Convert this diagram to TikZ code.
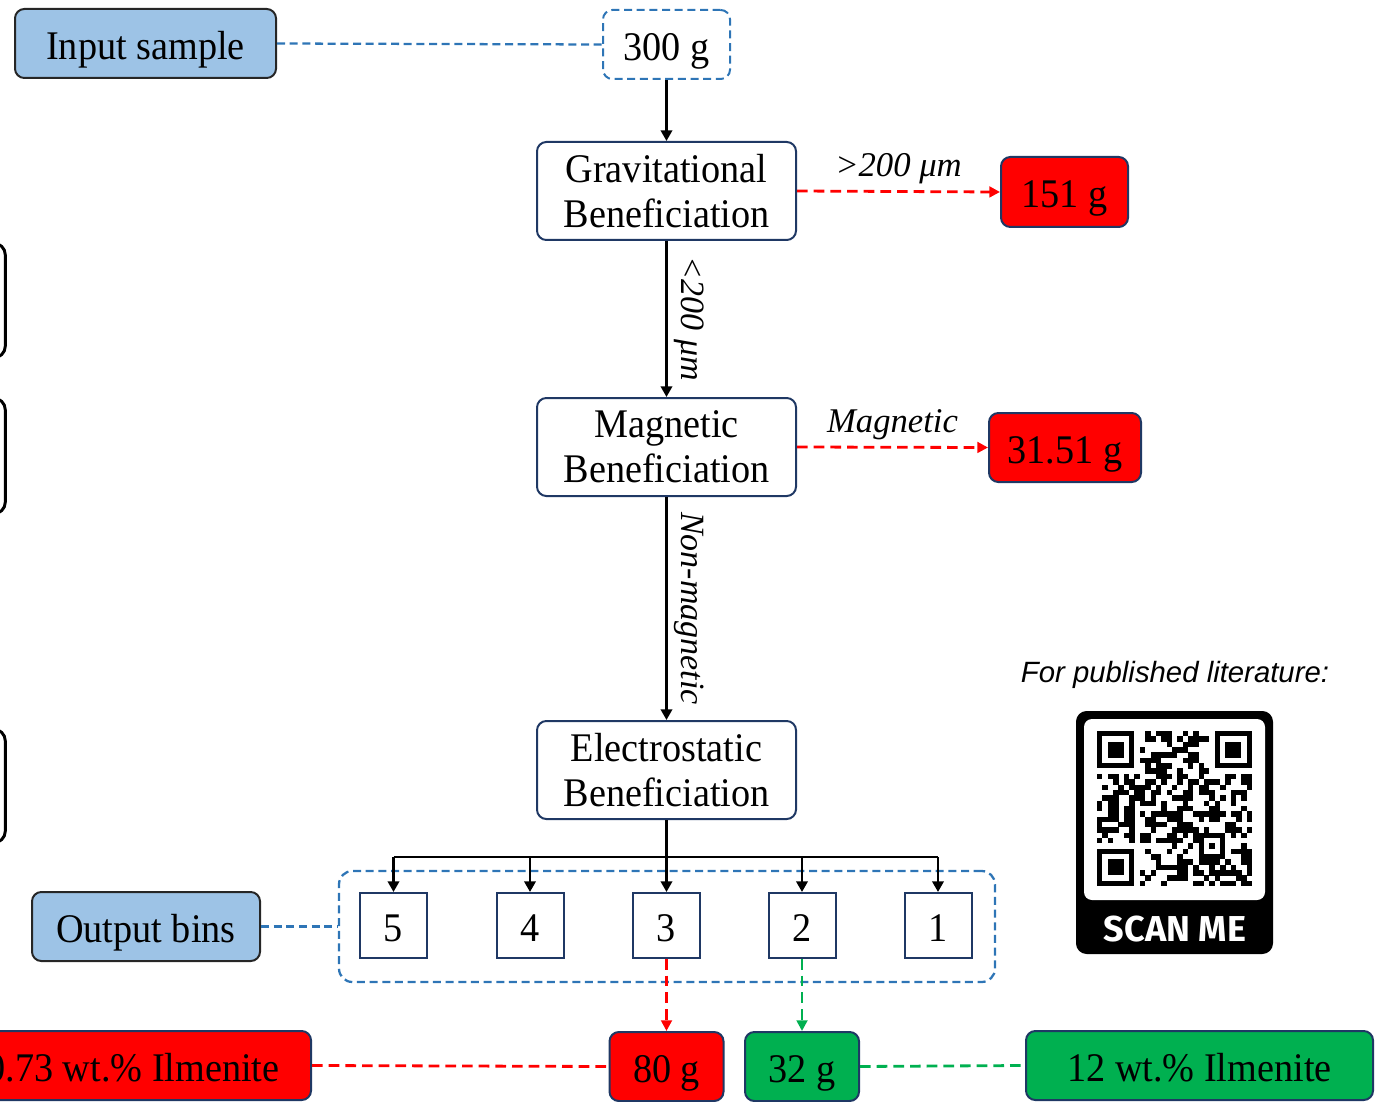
\documentclass[tikz,border=0pt]{standalone}
\usepackage{fontspec}
\usepackage{graphicx}
\setmainfont{Liberation Serif}
\newfontfamily\boxfont{Liberation Serif}[FakeStretch=0.94]
\newfontfamily\arialfont{Liberation Sans}
\newfontfamily\scanfont{Fira Sans}
\usetikzlibrary{arrows.meta,positioning,calc}
\definecolor{navy}{HTML}{1F3864}
\definecolor{lblue}{HTML}{9DC3E6}
\definecolor{dblue}{HTML}{2E75B6}
\definecolor{myred}{HTML}{FF0000}
\definecolor{mygreen}{HTML}{00B050}
\tikzset{
  base/.style={draw=navy, line width=1.5pt, rounded corners=7pt, align=center, inner sep=0pt,
    font=\boxfont\fontsize{30.5}{33.75}\selectfont},
  oneline/.style={text height=23.8pt, text depth=0pt},
  procbox/.style={base, fill=white, minimum width=194.25pt, minimum height=73.5pt},
  bluebox/.style={base, oneline, draw=black!85, fill=lblue, minimum height=51.75pt},
  redbox/.style={base, oneline, fill=myred, minimum height=51.75pt},
  greenbox/.style={base, oneline, fill=mygreen, minimum height=51.75pt},
  binbox/.style={draw=navy, line width=1.5pt, fill=white, minimum width=50.25pt, minimum height=48.75pt,
    inner sep=0pt, oneline, font=\boxfont\fontsize{30.5}{33.75}\selectfont},
  dashbox/.style={draw=dblue, line width=1.7pt, dash pattern=on 6pt off 3.5pt, rounded corners=10pt},
  leftbox/.style={draw=black, line width=2.2pt, rounded corners=9pt, minimum width=80pt},
  solidarrow/.style={line width=1.9pt, -{Triangle[length=8pt,width=8.5pt]}},
  reddash/.style={draw=myred, line width=2.1pt, dash pattern=on 8pt off 4.5pt},
  greendash/.style={draw=mygreen, line width=2.1pt, dash pattern=on 8pt off 4.5pt},
  bluedash/.style={draw=dblue, line width=1.7pt, dash pattern=on 6pt off 3.5pt},
  tipr/.style={-{Triangle[length=8pt,width=8pt]}},
  edgelabel/.style={font=\fontsize{26}{30}\selectfont\itshape, inner sep=0pt},
  vlabel/.style={font=\fontsize{25.5}{30}\selectfont\itshape, inner sep=0pt},
}
\begin{document}
\begin{tikzpicture}[x=0.75pt,y=-0.75pt]
\useasboundingbox (0,0) rectangle (1386,1102);
\clip (0,0) rectangle (1386,1102);

% partial boxes at the left edge
\node[leftbox, minimum height=86.25pt] (leftA) at (-48,300.5) {};
\node[leftbox, minimum height=87pt] (leftB) at (-48,456) {};
\node[leftbox, minimum height=85.5pt] (leftC) at (-48,786) {};

% main nodes
\node[bluebox, minimum width=195.75pt] (input) at (145.5,43.5) {Input sample};
\node[base, oneline, draw=dblue, dash pattern=on 6pt off 3.5pt, fill=white, minimum width=95.25pt, minimum height=51.75pt] (w300) at (666.5,44.5) {300 g};
\node[procbox] (grav) at (666.5,191) {Gravitational\\Beneficiation};
\node[redbox, minimum width=95.25pt, minimum height=52.5pt] (w151) at (1064.5,192) {151 g};
\node[procbox] (mag) at (666.5,447) {Magnetic\\Beneficiation};
\node[redbox, minimum width=114pt] (w3151) at (1065,447.5) {31.51 g};
\node[procbox] (elec) at (666.5,770) {Electrostatic\\Beneficiation};

\node[bluebox, minimum width=171pt] (outbins) at (146,926.5) {Output bins};
\node[dashbox, minimum width=492pt, minimum height=83.25pt] (container) at (667,926.5) {};
\node[binbox] (bin5) at (393.5,925.5) {5};
\node[binbox] (bin4) at (530,925.5) {4};
\node[binbox] (bin3) at (666.5,925.5) {3};
\node[binbox] (bin2) at (802,925.5) {2};
\node[binbox] (bin1) at (938,925.5) {1};

\node[redbox, minimum width=267pt] (ilm073) at (133,1065.5) {0.73 wt.\% Ilmenite};
\node[redbox, minimum width=85.5pt] (w80) at (666.5,1066.5) {80 g};
\node[greenbox, minimum width=85.5pt] (w32) at (802,1066.5) {32 g};
\node[greenbox, minimum width=260.25pt] (ilm12) at (1199.5,1065.5) {12 wt.\% Ilmenite};

% connectors
\draw[bluedash] (input.east) -- (w300.west);
\draw[solidarrow] (w300.south) -- (grav.north);
\draw[reddash, tipr] (grav.east) -- node[edgelabel, black, above=5pt] (lblA) {>200 μm} (w151.west);
\draw[solidarrow] (grav.south) -- node[vlabel, right=5pt, rotate=-90, anchor=south] (lblB) {<200 μm} (mag.north);
\draw[reddash, tipr] (mag.east) -- node[edgelabel, black, above=4.5pt] (lblC) {Magnetic} (w3151.west);
\draw[solidarrow] (mag.south) -- node[vlabel, right=5pt, rotate=-90, anchor=south] (lblD) {Non-magnetic} (elec.north);

\coordinate (bar) at (666.5,857);
\draw[solidarrow] (elec.south) -- (bin3.north);
\draw[line width=1.9pt] (bin5.north |- bar) -- (bin1.north |- bar);
\foreach \b in {bin5,bin4,bin2,bin1}{
  \draw[solidarrow] (\b.north |- bar) -- (\b.north);
}
\draw[bluedash] (outbins.east) -- (container.west);
\draw[reddash, tipr] (bin3.south) -- (w80.north);
\draw[greendash, tipr] (bin2.south) -- (w32.north);
\draw[reddash] (ilm073.east) -- (w80.west);
\draw[greendash] (w32.east) -- (ilm12.west);

% QR panel
\node[font=\arialfont\itshape\fontsize{22}{26}\selectfont, inner sep=0pt] (pubtext) at (1175,675) {For published literature:};
\node[fill=black, rounded corners=8pt, minimum width=147.75pt, minimum height=182.25pt, inner sep=0pt] (qrframe) at (1174.5,832.5) {};
\node[fill=white, rounded corners=6pt, minimum width=135.75pt, minimum height=135.75pt, inner sep=0pt] (qrwhite) at (1174.5,809.5) {};
\node[text=white, font=\scanfont\bfseries\fontsize{27}{30}\selectfont, inner sep=0pt] (scanme) at (1175,929) {SCAN ME};

\coordinate (qr) at (1097,731);
\pgfmathsetseed{4711}
\foreach \i in {0,...,28}{
  \foreach \j in {0,...,28}{
    \pgfmathtruncatemacro\skipit{(((\i<8)&&(\j<8)) || ((\i>20)&&(\j<8)) || ((\i<8)&&(\j>20)) || ((\i>18)&&(\i<24)&&(\j>18)&&(\j<24))) ? 1 : 0}
    \pgfmathtruncatemacro\blk{(rnd<0.52) ? 1 : 0}
    \ifnum\skipit=0 \ifnum\blk=1
      \fill[black] ($(qr)+(\i*5.35,\j*5.35)$) rectangle ++(5.45,5.45);
    \fi\fi
  }
}
\foreach \ox/\oy in {0/0,22/0,0/22}{
  \fill[black] ($(qr)+(\ox*5.35,\oy*5.35)$) rectangle ++(37.45,37.45);
  \fill[white] ($(qr)+(\ox*5.35+5.35,\oy*5.35+5.35)$) rectangle ++(26.75,26.75);
  \fill[black] ($(qr)+(\ox*5.35+10.7,\oy*5.35+10.7)$) rectangle ++(16.05,16.05);
}
\fill[black] ($(qr)+(19*5.35,19*5.35)$) rectangle ++(26.75,26.75);
\fill[white] ($(qr)+(20*5.35,20*5.35)$) rectangle ++(16.05,16.05);
\fill[black] ($(qr)+(21*5.35,21*5.35)$) rectangle ++(5.35,5.35);
\end{tikzpicture}
\end{document}
